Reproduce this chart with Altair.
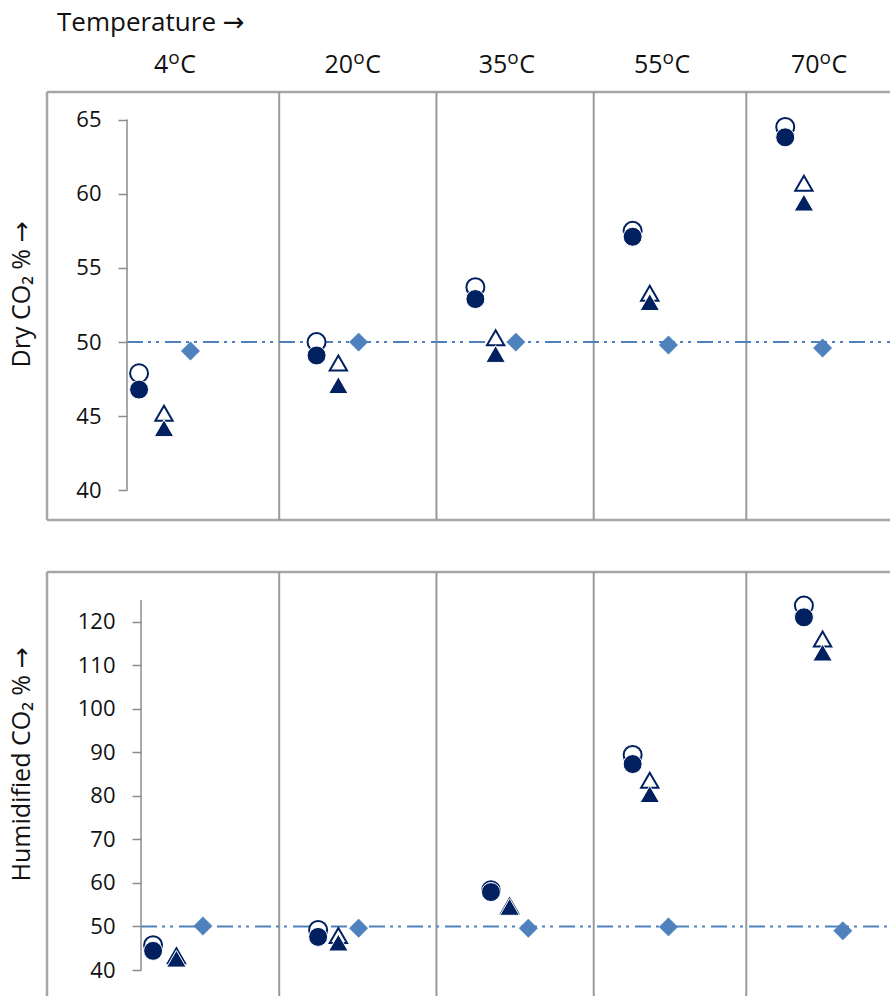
import altair as alt
import pandas as pd

# ---- data -------------------------------------------------------------
temps = [4, 20, 35, 55, 70]          # column headers, in degrees C

# x positions are in column units: column boundaries sit at 1, 2, 3, 4
dry_x_circle = [0.10, 1.24, 2.26, 3.27, 4.25]
dry_x_triangle = [0.26, 1.38, 2.39, 3.38, 4.37]
dry_x_diamond = [0.43, 1.51, 2.52, 3.50, 4.49]
dry_open_circle = [47.9, 50.0, 53.7, 57.5, 64.5]
dry_filled_circle = [46.8, 49.1, 52.9, 57.1, 63.8]
dry_open_triangle = [45.2, 48.6, 50.3, 53.3, 60.7]
dry_filled_triangle = [44.2, 47.1, 49.2, 52.7, 59.4]
dry_diamond = [49.4, 50.0, 50.0, 49.8, 49.6]

hum_x_circle = [0.19, 1.25, 2.36, 3.27, 4.37]
hum_x_triangle = [0.34, 1.38, 2.48, 3.38, 4.49]
hum_x_diamond = [0.51, 1.51, 2.60, 3.50, 4.62]
hum_open_circle = [45.7, 49.2, 58.3, 89.4, 123.7]
hum_filled_circle = [44.4, 47.6, 57.9, 87.3, 121.0]
hum_open_triangle = [43.3, 47.9, 54.7, 83.6, 116.0]
hum_filled_triangle = [42.6, 46.3, 54.5, 80.4, 112.9]
hum_diamond = [50.1, 49.6, 49.6, 49.9, 49.0]

reference_level = 50
dry_ticks = [40, 45, 50, 55, 60, 65]
hum_ticks = [40, 50, 60, 70, 80, 90, 100, 110, 120]
hum_axis_top = 125

# ---- layout -----------------------------------------------------------
W = 892
H_TOP, H_BOT = 546, 452
PX0, PXU = 123.5, 155.7          # pixel of column origin, pixels per column
column_bounds = [1.0, 2.01, 3.02, 4.0]
header_anchor = [0.287, 1.475, 2.465, 3.462, 4.470]   # where the number ends

FONT = "Open Sans, DejaVu Sans"
NAVY = "#002060"
BLUE = "#4F81BD"
GRID = "#A6A6A6"
INK = "#111111"

x_scale = alt.Scale(domain=[-PX0 / PXU, (W - PX0) / PXU], nice=False, zero=False)


def y_domain(v0, p0, ppu, h):
    return [v0 - (h - p0) / ppu, v0 + p0 / ppu]


dry_scale = alt.Scale(domain=y_domain(40, 490.5, 14.84, H_TOP), nice=False, zero=False)
hum_scale = alt.Scale(domain=y_domain(40, 970 - 546, 4.354, H_BOT), nice=False, zero=False)


def make_axis(ticks, axis_px, title, title_y):
    return alt.Axis(
        values=ticks, offset=-axis_px, domain=False, grid=False,
        ticks=True, tickSize=9, tickColor="#8C8C8C", tickWidth=1.5,
        labelFont=FONT, labelFontSize=22, labelColor=INK, labelPadding=17,
        title=title, titleFont=FONT, titleFontSize=25, titleFontWeight="normal",
        titleColor=INK, titleAngle=270, titleAlign="center",
        titleBaseline="middle", titleX=21 - axis_px, titleY=title_y,
    )


one = alt.Data(values=[{"k": 0}])


def panel(xs, series, scale, axis, ticks, axis_px, axis_top,
          frame_top, frame_bottom, bottom_edge):
    rows = []
    for name, xv in xs.items():
        for x, v in zip(xv, series[name]):
            rows.append({"series": name, "x": x, "value": v})
    df = pd.DataFrame(rows)

    def ydat(d):
        return alt.Y(datum=d, scale=scale, axis=axis)

    layers = []
    # frame
    layers.append(alt.Chart(one).mark_rule(color=GRID, strokeWidth=2.5).encode(
        x=alt.value(47), y=alt.value(frame_top), y2=alt.value(frame_bottom)))
    layers.append(alt.Chart(one).mark_rule(color=GRID, strokeWidth=2.5).encode(
        x=alt.value(47), x2=alt.value(W - 2), y=alt.value(frame_top)))
    if bottom_edge is not None:
        layers.append(alt.Chart(one).mark_rule(color=GRID, strokeWidth=2.5).encode(
            x=alt.value(47), x2=alt.value(W - 2), y=alt.value(bottom_edge)))
    # column separators
    layers.append(alt.Chart(pd.DataFrame({"b": column_bounds})).mark_rule(
        color="#9A9A9A", strokeWidth=2).encode(
        x=alt.X("b:Q", scale=x_scale, axis=None),
        y=alt.value(frame_top), y2=alt.value(frame_bottom)))
    # reference level
    layers.append(alt.Chart(one).mark_rule(
        color=BLUE, strokeWidth=2, strokeDash=[16, 5, 3, 5, 3, 6]).encode(
        x=alt.value(axis_px), x2=alt.value(W - 2), y=ydat(reference_level)))
    # axis spine
    layers.append(alt.Chart(one).mark_rule(color="#8C8C8C", strokeWidth=1.5).encode(
        x=alt.value(axis_px), y=ydat(ticks[0]), y2=alt.Y2(datum=axis_top)))

    def pts(name, shape, size, open_):
        if open_:
            style = dict(fill="white", stroke=NAVY, strokeWidth=2)
        else:
            style = dict(fill=NAVY, stroke="white", strokeWidth=1)
        return alt.Chart(df).transform_filter(
            alt.datum.series == name).mark_point(
            shape=shape, size=size, filled=True, opacity=1, **style).encode(
            x=alt.X("x:Q", scale=x_scale, axis=None),
            y=alt.Y("value:Q", scale=scale, axis=axis))

    layers.append(pts("open_circle", "circle", 324, True))
    layers.append(pts("filled_circle", "circle", 360, False))
    layers.append(pts("open_triangle", "triangle-up", 300, True))
    layers.append(pts("filled_triangle", "triangle-up", 380, False))
    layers.append(alt.Chart(df).transform_filter(
        alt.datum.series == "diamond").mark_point(
        shape="diamond", size=340, filled=True, fill=BLUE, stroke=BLUE,
        strokeWidth=0.5, opacity=1).encode(
        x=alt.X("x:Q", scale=x_scale, axis=None),
        y=alt.Y("value:Q", scale=scale, axis=axis)))
    return layers


dry_xs = {"open_circle": dry_x_circle, "filled_circle": dry_x_circle,
          "open_triangle": dry_x_triangle, "filled_triangle": dry_x_triangle,
          "diamond": dry_x_diamond}
dry_vals = {"open_circle": dry_open_circle, "filled_circle": dry_filled_circle,
            "open_triangle": dry_open_triangle, "filled_triangle": dry_filled_triangle,
            "diamond": dry_diamond}
hum_xs = {"open_circle": hum_x_circle, "filled_circle": hum_x_circle,
          "open_triangle": hum_x_triangle, "filled_triangle": hum_x_triangle,
          "diamond": hum_x_diamond}
hum_vals = {"open_circle": hum_open_circle, "filled_circle": hum_filled_circle,
            "open_triangle": hum_open_triangle, "filled_triangle": hum_filled_triangle,
            "diamond": hum_diamond}

dry_axis = make_axis(dry_ticks, 127, "Dry CO₂ % →", 294)
hum_axis = make_axis(hum_ticks, 141, "Humidified CO₂ % →", 218)

top_layers = panel(dry_xs, dry_vals, dry_scale, dry_axis, dry_ticks, 127,
                   dry_ticks[-1], 92, 520, 520)
hum_layers = panel(hum_xs, hum_vals, hum_scale, hum_axis, hum_ticks, 141,
                   hum_axis_top, 26, H_BOT - 2, None)

# column headers: number, superscript "o", then "C"
header_df = pd.DataFrame({"t": [str(t) for t in temps], "x": header_anchor})
hx = alt.X("x:Q", scale=x_scale, axis=None)
top_layers.append(alt.Chart(header_df).mark_text(
    font=FONT, fontSize=25, color=INK, align="right",
    baseline="alphabetic").encode(x=hx, y=alt.value(73), text="t:N"))
top_layers.append(alt.Chart(header_df).mark_text(
    font=FONT, fontSize=19, color=INK, align="left", baseline="alphabetic",
    text="o", dx=0).encode(x=hx, y=alt.value(64)))
top_layers.append(alt.Chart(header_df).mark_text(
    font=FONT, fontSize=25, color=INK, align="left", baseline="alphabetic",
    text="C", dx=12).encode(x=hx, y=alt.value(73)))
top_layers.append(alt.Chart(one).mark_text(
    font=FONT, fontSize=26, color=INK, align="left",
    baseline="alphabetic", text="Temperature →").encode(
    x=alt.value(57), y=alt.value(31)))

top = alt.layer(*top_layers).properties(width=W, height=H_TOP)
bottom = alt.layer(*hum_layers).properties(width=W, height=H_BOT)

chart = alt.vconcat(top, bottom, spacing=0).properties(
    padding=0, background="white").configure_view(stroke=None)

chart.save("out.html", embed_options={"renderer": "svg", "actions": False})
